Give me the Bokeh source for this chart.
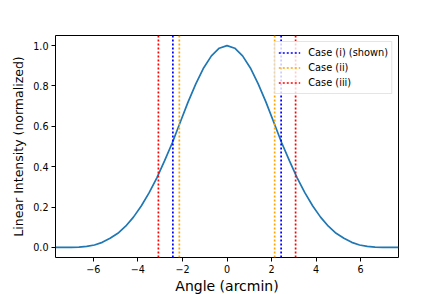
from bokeh.plotting import figure
from bokeh.models import FixedTicker, Legend, LegendItem, Range1d
from bokeh.embed import file_html
from bokeh.resources import INLINE

# Data
angle = [-7.70, -7.35, -7.00, -6.65, -6.30, -5.95, -5.60, -5.25, -4.90, -4.55,
         -4.20, -3.85, -3.50, -3.15, -2.80, -2.45, -2.10, -1.75, -1.40, -1.05,
         -0.70, -0.35, 0.00, 0.35, 0.70, 1.05, 1.40, 1.75, 2.10, 2.45,
         2.80, 3.15, 3.50, 3.85, 4.20, 4.55, 4.90, 5.25, 5.60, 5.95,
         6.30, 6.65, 7.00, 7.35, 7.70]
intensity = [0.000, 0.000, 0.000, 0.001, 0.005, 0.012, 0.025, 0.045, 0.070, 0.105,
             0.150, 0.205, 0.270, 0.345, 0.430, 0.520, 0.620, 0.720, 0.810, 0.889,
             0.949, 0.987, 1.000, 0.987, 0.949, 0.889, 0.810, 0.720, 0.620, 0.520,
             0.430, 0.345, 0.270, 0.205, 0.150, 0.105, 0.070, 0.045, 0.025, 0.012,
             0.005, 0.001, 0.000, 0.000, 0.000]

case_labels = ["Case (i) (shown)", "Case (ii)", "Case (iii)"]
case_colors = ["blue", "orange", "red"]
case_half_widths = [2.43, 2.14, 3.08]

x_ticks = [-6, -4, -2, 0, 2, 4, 6]
y_ticks = [0.0, 0.2, 0.4, 0.6, 0.8, 1.0]

FONT = "DejaVu Sans"

p = figure(width=434, height=286, output_backend="svg", toolbar_location=None,
           x_range=Range1d(-7.7, 7.7), y_range=Range1d(-0.05, 1.05),
           frame_width=343, frame_height=222,
           min_border_left=55, min_border_top=35, min_border_right=36, min_border_bottom=29)
p.grid.visible = False
p.outline_line_color = "black"
p.outline_line_width = 1
p.background_fill_color = "white"
p.border_fill_color = "white"

p.line(angle, intensity, line_color="#1f77b4", line_width=1.7)

items = []
for lab, col, hw in zip(case_labels, case_colors, case_half_widths):
    r = p.segment(x0=[-hw, hw], y0=[-0.05, -0.05], x1=[-hw, hw], y1=[1.05, 1.05],
                  line_color=col, line_width=1.7, line_dash="2 2")
    items.append(LegendItem(label=lab, renderers=[r]))

legend = Legend(items=items, location="top_right",
                label_text_font=FONT, label_text_font_size="9.8px",
                label_text_color="black",
                glyph_width=22, glyph_height=15, label_height=15, label_standoff=8,
                spacing=0, padding=3, margin=6,
                border_line_color="#cccccc", border_line_width=1,
                background_fill_alpha=0.8)
p.add_layout(legend)

p.xaxis.ticker = FixedTicker(ticks=x_ticks)
p.xaxis.major_label_overrides = {t: (str(t).replace("-", "\u2212")) for t in x_ticks}
p.yaxis.ticker = FixedTicker(ticks=y_ticks)
p.yaxis.major_label_overrides = {t: f"{t:.1f}" for t in y_ticks}

for ax in (p.xaxis, p.yaxis):
    ax.minor_tick_line_color = None
    ax.major_tick_in = 0
    ax.major_tick_out = 4
    ax.axis_line_color = None
    ax.major_label_text_font = FONT
    ax.major_label_text_font_size = "9.6px"
    ax.major_label_text_color = "black"
    ax.axis_label_text_font = FONT
    ax.axis_label_text_font_style = "normal"
    ax.axis_label_text_color = "black"

p.xaxis.axis_label = "Angle (arcmin)"
p.xaxis.axis_label_text_font_size = "14px"
p.xaxis.axis_label_standoff = 2
p.xaxis.major_label_standoff = 3
p.yaxis.axis_label = "Linear Intensity (normalized)"
p.yaxis.axis_label_text_font_size = "12.5px"
p.yaxis.axis_label_standoff = 4
p.yaxis.major_label_standoff = 3

open("out.html", "w").write(file_html(p, INLINE))
